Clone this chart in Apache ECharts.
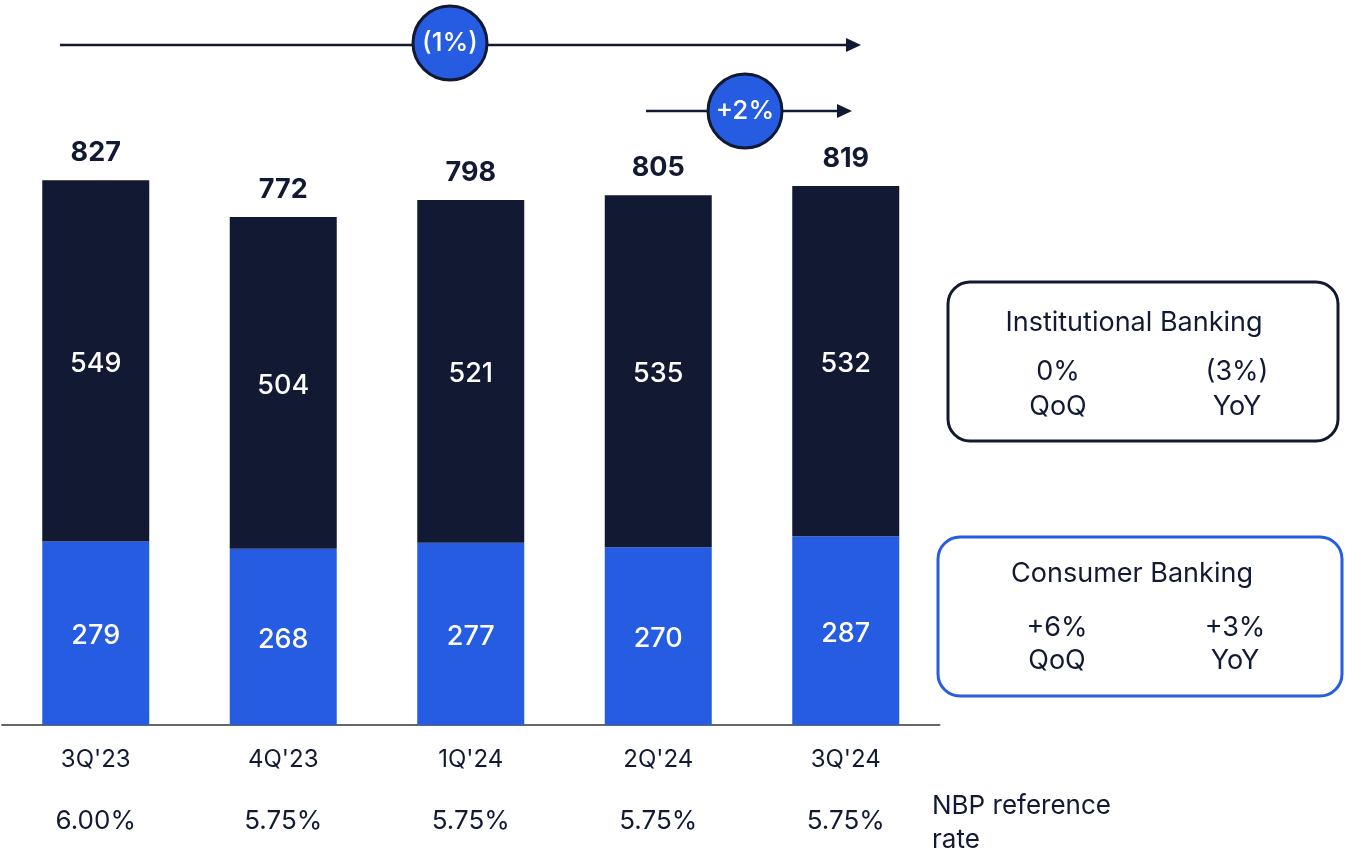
<!DOCTYPE html>
<html>
<head>
<meta charset="utf-8">
<script src="https://cdn.jsdelivr.net/npm/echarts@6/dist/echarts.min.js"></script>
<style>html,body{margin:0;padding:0;background:#fff;}#c{width:1345px;height:853px;}</style>
</head>
<body>
<div id="c"></div>
<script>
var categories = ["3Q'23", "4Q'23", "1Q'24", "2Q'24", "3Q'24"];
var rates = ["6.00%", "5.75%", "5.75%", "5.75%", "5.75%"];
var consumer = [279, 268, 277, 270, 287];
var institutional = [549, 504, 521, 535, 532];
var totals = [827, 772, 798, 805, 819];

var NAVY = '#121a33';
var BLUE = '#265ce1';
var FONT = 'Inter, "Noto Sans", sans-serif';

var chart = echarts.init(document.getElementById('c'));
chart.setOption({
  animation: false,
  textStyle: { fontFamily: FONT },
  grid: { left: 2, width: 937.5, top: 67, bottom: 128 },
  xAxis: {
    type: 'category',
    data: categories,
    axisLine: { lineStyle: { color: '#666666', width: 2 } },
    axisTick: { show: false },
    axisLabel: {
      margin: 15,
      formatter: function (v, i) { return '{a|' + v + '}\n{b|' + rates[i] + '}'; },
      rich: {
        a: { fontFamily: FONT, fontSize: 24, color: NAVY, lineHeight: 40 },
        b: { fontFamily: FONT, fontSize: 26, color: NAVY, lineHeight: 82 }
      }
    }
  },
  yAxis: { type: 'value', min: 0, max: 1000, show: false, splitLine: { show: false } },
  series: [
    {
      name: 'Consumer Banking', type: 'bar', stack: 't', barWidth: 107,
      data: consumer, itemStyle: { color: BLUE },
      label: { show: true, position: 'inside', offset: [0, 3], color: '#fff', fontSize: 27, fontWeight: 500, fontFamily: FONT }
    },
    {
      name: 'Institutional Banking', type: 'bar', stack: 't', barWidth: 107,
      data: institutional, itemStyle: { color: NAVY },
      label: { show: true, position: 'inside', offset: [0, 3], color: '#fff', fontSize: 27, fontWeight: 500, fontFamily: FONT }
    },
    {
      name: 'Total', type: 'scatter', data: totals, symbolSize: 0, silent: true,
      itemStyle: { opacity: 1 },
      label: { show: true, position: 'top', distance: 14, color: NAVY, fontSize: 27, fontWeight: 'bold', fontFamily: FONT }
    }
  ],
  graphic: [
    // long arrow (1%)
    { type: 'line', shape: { x1: 60, y1: 45, x2: 848, y2: 45 }, style: { stroke: NAVY, lineWidth: 2.5 }, z: 10 },
    { type: 'polygon', shape: { points: [[846, 38], [861, 45], [846, 52]] }, style: { fill: NAVY }, z: 10 },
    { type: 'circle', shape: { cx: 450, cy: 43, r: 37 }, style: { fill: BLUE, stroke: NAVY, lineWidth: 3 }, z: 11 },
    { type: 'text', x: 450, y: 43, style: { text: '(1%)', fill: '#fff', font: '500 26px ' + FONT, align: 'center', verticalAlign: 'middle' }, z: 12 },
    // short arrow +2%
    { type: 'line', shape: { x1: 646, y1: 111, x2: 840, y2: 111 }, style: { stroke: NAVY, lineWidth: 2.5 }, z: 10 },
    { type: 'polygon', shape: { points: [[837, 104], [852, 111], [837, 118]] }, style: { fill: NAVY }, z: 10 },
    { type: 'circle', shape: { cx: 745, cy: 111, r: 37 }, style: { fill: BLUE, stroke: NAVY, lineWidth: 3 }, z: 11 },
    { type: 'text', x: 745, y: 111, style: { text: '+2%', fill: '#fff', font: '500 26px ' + FONT, align: 'center', verticalAlign: 'middle' }, z: 12 },
    // Institutional box
    { type: 'rect', shape: { x: 948, y: 282, width: 390, height: 159, r: 22 }, style: { fill: '#fff', stroke: NAVY, lineWidth: 3 } },
    { type: 'text', x: 1134, y: 323, style: { text: 'Institutional Banking', fill: NAVY, font: '27px ' + FONT, align: 'center', verticalAlign: 'middle' } },
    { type: 'text', x: 1058, y: 372, style: { text: '0%', fill: NAVY, font: '27px ' + FONT, align: 'center', verticalAlign: 'middle' } },
    { type: 'text', x: 1058, y: 407, style: { text: 'QoQ', fill: NAVY, font: '27px ' + FONT, align: 'center', verticalAlign: 'middle' } },
    { type: 'text', x: 1237, y: 372, style: { text: '(3%)', fill: NAVY, font: '27px ' + FONT, align: 'center', verticalAlign: 'middle' } },
    { type: 'text', x: 1237, y: 407, style: { text: 'YoY', fill: NAVY, font: '27px ' + FONT, align: 'center', verticalAlign: 'middle' } },
    // Consumer box
    { type: 'rect', shape: { x: 938, y: 537, width: 404, height: 159, r: 22 }, style: { fill: '#fff', stroke: BLUE, lineWidth: 3 } },
    { type: 'text', x: 1132, y: 574, style: { text: 'Consumer Banking', fill: NAVY, font: '27px ' + FONT, align: 'center', verticalAlign: 'middle' } },
    { type: 'text', x: 1057, y: 628, style: { text: '+6%', fill: NAVY, font: '27px ' + FONT, align: 'center', verticalAlign: 'middle' } },
    { type: 'text', x: 1057, y: 661, style: { text: 'QoQ', fill: NAVY, font: '27px ' + FONT, align: 'center', verticalAlign: 'middle' } },
    { type: 'text', x: 1235, y: 628, style: { text: '+3%', fill: NAVY, font: '27px ' + FONT, align: 'center', verticalAlign: 'middle' } },
    { type: 'text', x: 1235, y: 661, style: { text: 'YoY', fill: NAVY, font: '27px ' + FONT, align: 'center', verticalAlign: 'middle' } },
    // NBP reference rate
    { type: 'text', x: 932, y: 806, style: { text: 'NBP reference', fill: NAVY, font: '26px ' + FONT, align: 'left', verticalAlign: 'middle' } },
    { type: 'text', x: 932, y: 840, style: { text: 'rate', fill: NAVY, font: '26px ' + FONT, align: 'left', verticalAlign: 'middle' } }
  ]
});
</script>
</body>
</html>
